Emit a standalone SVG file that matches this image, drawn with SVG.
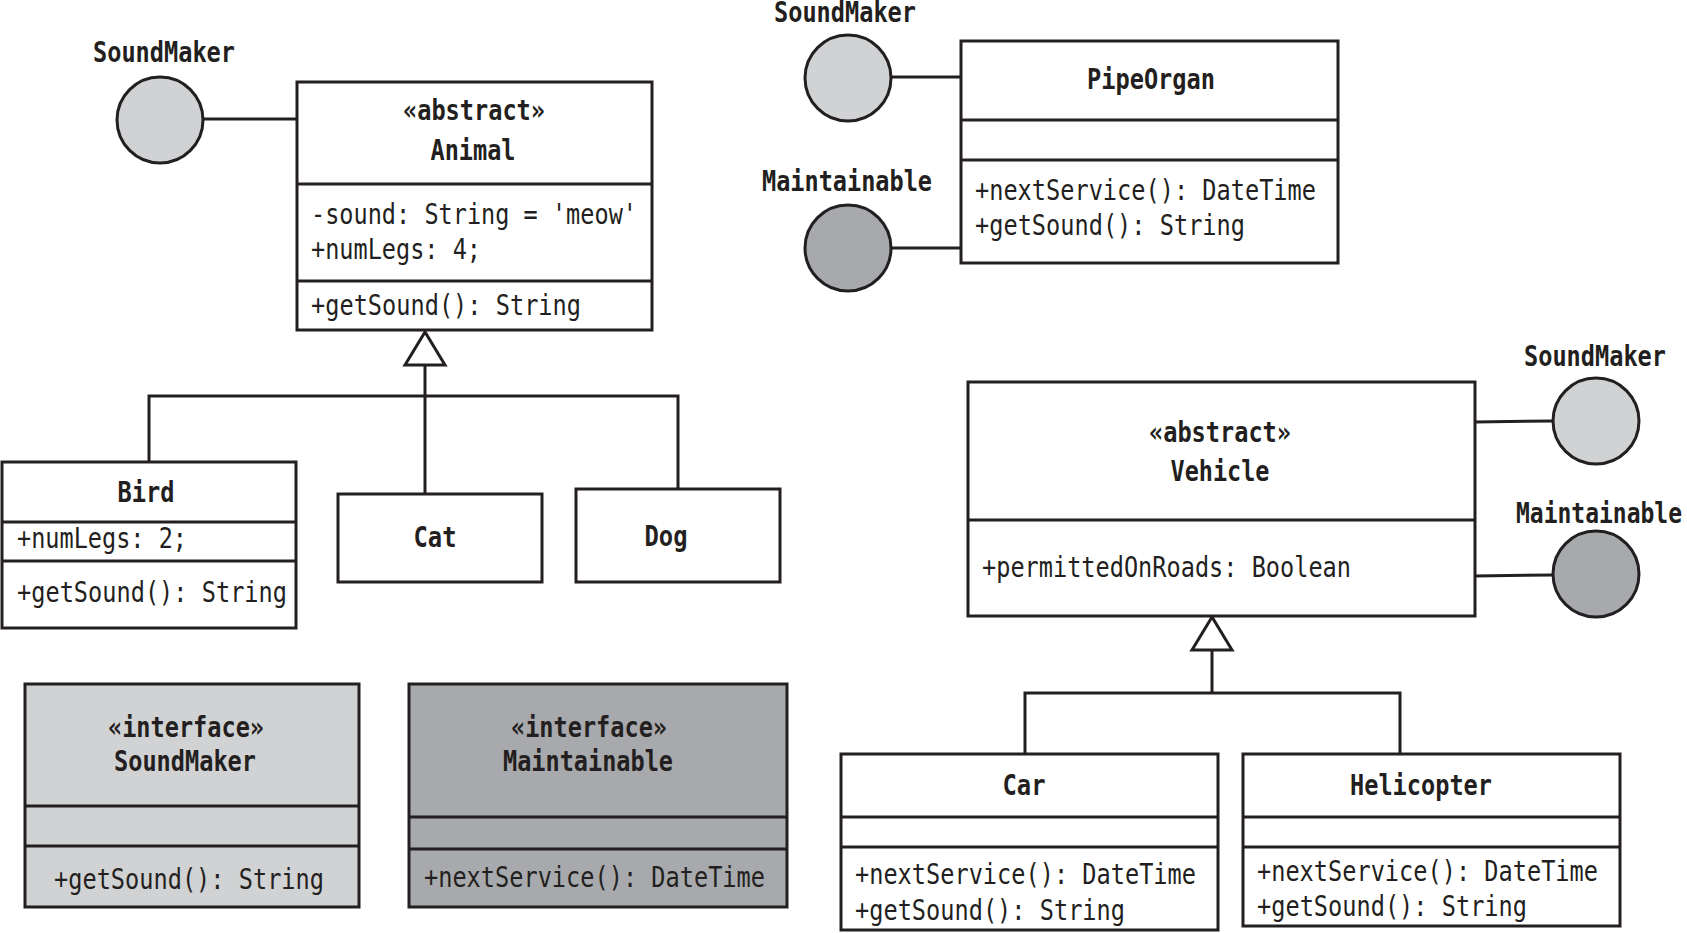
<svg xmlns="http://www.w3.org/2000/svg" width="1687" height="933" viewBox="0 0 1687 933">
<style>
.box{fill:#ffffff;stroke:#231f20;stroke-width:3}
.lg{fill:#d1d2d4}
.dg{fill:#a7a9ac}
.ln{stroke:#231f20;stroke-width:3;fill:none}
.ball{stroke:#231f20;stroke-width:3}
text{font-family:"DejaVu Sans Mono","Liberation Mono",monospace;font-size:29px;fill:#231f20}
.b{font-weight:bold;text-anchor:middle}
</style>
<rect width="1687" height="933" fill="#ffffff"/>
<g id="connectors">
  <line class="ln" x1="203" y1="119" x2="297" y2="119"/>
  <line class="ln" x1="891" y1="77" x2="961" y2="77"/>
  <line class="ln" x1="891" y1="248" x2="961" y2="248"/>
  <line class="ln" x1="1475" y1="422" x2="1553" y2="421"/>
  <line class="ln" x1="1475" y1="576" x2="1553" y2="575"/>
  <polyline class="ln" points="425,365 425,494"/>
  <polyline class="ln" points="149,462 149,396 678,396 678,489"/>
  <polygon class="ln" points="425,332 405,365 445,365" fill="#ffffff"/>
  <polyline class="ln" points="1212,650 1212,693"/>
  <polyline class="ln" points="1025,754 1025,693 1400,693 1400,754"/>
  <polygon class="ln" points="1212,617 1192,650 1232,650" fill="#ffffff"/>
</g>
<g id="soundmaker-ball-1">
  <circle class="ball lg" cx="160" cy="120" r="43"/>
  <text class="b" x="164" y="62" textLength="142" lengthAdjust="spacingAndGlyphs">SoundMaker</text>
</g>
<g id="soundmaker-ball-2">
  <circle class="ball lg" cx="848" cy="78" r="43"/>
  <text class="b" x="845" y="22" textLength="142" lengthAdjust="spacingAndGlyphs">SoundMaker</text>
</g>
<g id="maintainable-ball-1">
  <circle class="ball dg" cx="848" cy="248" r="43"/>
  <text class="b" x="847" y="191" textLength="170" lengthAdjust="spacingAndGlyphs">Maintainable</text>
</g>
<g id="soundmaker-ball-3">
  <circle class="ball lg" cx="1596" cy="421" r="43"/>
  <text class="b" x="1595" y="366" textLength="142" lengthAdjust="spacingAndGlyphs">SoundMaker</text>
</g>
<g id="maintainable-ball-2">
  <circle class="ball dg" cx="1596" cy="574" r="43"/>
  <text class="b" x="1599" y="523" textLength="166" lengthAdjust="spacingAndGlyphs">Maintainable</text>
</g>
<g id="animal">
  <rect class="box" x="297" y="82" width="355" height="248"/>
  <line class="ln" x1="297" y1="184" x2="652" y2="184"/>
  <line class="ln" x1="297" y1="281" x2="652" y2="281"/>
  <text class="b" x="474" y="120" textLength="142" lengthAdjust="spacingAndGlyphs">«abstract»</text>
  <text class="b" x="473" y="160" textLength="85" lengthAdjust="spacingAndGlyphs">Animal</text>
  <text x="311" y="224" textLength="326" lengthAdjust="spacingAndGlyphs">-sound: String = 'meow'</text>
  <text x="311" y="259" textLength="170" lengthAdjust="spacingAndGlyphs">+numLegs: 4;</text>
  <text x="311" y="315" textLength="270" lengthAdjust="spacingAndGlyphs">+getSound(): String</text>
</g>
<g id="pipeorgan">
  <rect class="box" x="961" y="41" width="377" height="222"/>
  <line class="ln" x1="961" y1="120" x2="1338" y2="120"/>
  <line class="ln" x1="961" y1="160" x2="1338" y2="160"/>
  <text class="b" x="1151" y="89" textLength="128" lengthAdjust="spacingAndGlyphs">PipeOrgan</text>
  <text x="975" y="200" textLength="341" lengthAdjust="spacingAndGlyphs">+nextService(): DateTime</text>
  <text x="975" y="235" textLength="270" lengthAdjust="spacingAndGlyphs">+getSound(): String</text>
</g>
<g id="vehicle">
  <rect class="box" x="968" y="382" width="507" height="234"/>
  <line class="ln" x1="968" y1="520" x2="1475" y2="520"/>
  <text class="b" x="1220" y="442" textLength="142" lengthAdjust="spacingAndGlyphs">«abstract»</text>
  <text class="b" x="1220" y="481" textLength="99" lengthAdjust="spacingAndGlyphs">Vehicle</text>
  <text x="982" y="577" textLength="369" lengthAdjust="spacingAndGlyphs">+permittedOnRoads: Boolean</text>
</g>
<g id="bird">
  <rect class="box" x="2" y="462" width="294" height="166"/>
  <line class="ln" x1="2" y1="522" x2="296" y2="522"/>
  <line class="ln" x1="2" y1="561" x2="296" y2="561"/>
  <text class="b" x="146" y="502" textLength="57" lengthAdjust="spacingAndGlyphs">Bird</text>
  <text x="17" y="548" textLength="170" lengthAdjust="spacingAndGlyphs">+numLegs: 2;</text>
  <text x="17" y="602" textLength="270" lengthAdjust="spacingAndGlyphs">+getSound(): String</text>
</g>
<g id="cat">
  <rect class="box" x="338" y="494" width="204" height="88"/>
  <text class="b" x="435" y="547" textLength="43" lengthAdjust="spacingAndGlyphs">Cat</text>
</g>
<g id="dog">
  <rect class="box" x="576" y="489" width="204" height="93"/>
  <text class="b" x="666" y="546" textLength="43" lengthAdjust="spacingAndGlyphs">Dog</text>
</g>
<g id="soundmaker-interface">
  <rect class="box lg" x="25" y="684" width="334" height="223"/>
  <line class="ln" x1="25" y1="806" x2="359" y2="806"/>
  <line class="ln" x1="25" y1="846" x2="359" y2="846"/>
  <text class="b" x="186" y="737" textLength="156" lengthAdjust="spacingAndGlyphs">«interface»</text>
  <text class="b" x="185" y="771" textLength="142" lengthAdjust="spacingAndGlyphs">SoundMaker</text>
  <text x="54" y="889" textLength="270" lengthAdjust="spacingAndGlyphs">+getSound(): String</text>
</g>
<g id="maintainable-interface">
  <rect class="box dg" x="409" y="684" width="378" height="223"/>
  <line class="ln" x1="409" y1="817" x2="787" y2="817"/>
  <line class="ln" x1="409" y1="849" x2="787" y2="849"/>
  <text class="b" x="589" y="737" textLength="156" lengthAdjust="spacingAndGlyphs">«interface»</text>
  <text class="b" x="588" y="771" textLength="170" lengthAdjust="spacingAndGlyphs">Maintainable</text>
  <text x="424" y="887" textLength="341" lengthAdjust="spacingAndGlyphs">+nextService(): DateTime</text>
</g>
<g id="car">
  <rect class="box" x="841" y="754" width="377" height="176"/>
  <line class="ln" x1="841" y1="817" x2="1218" y2="817"/>
  <line class="ln" x1="841" y1="847" x2="1218" y2="847"/>
  <text class="b" x="1024" y="795" textLength="43" lengthAdjust="spacingAndGlyphs">Car</text>
  <text x="855" y="884" textLength="341" lengthAdjust="spacingAndGlyphs">+nextService(): DateTime</text>
  <text x="855" y="920" textLength="270" lengthAdjust="spacingAndGlyphs">+getSound(): String</text>
</g>
<g id="helicopter">
  <rect class="box" x="1243" y="754" width="377" height="172"/>
  <line class="ln" x1="1243" y1="817" x2="1620" y2="817"/>
  <line class="ln" x1="1243" y1="847" x2="1620" y2="847"/>
  <text class="b" x="1421" y="795" textLength="142" lengthAdjust="spacingAndGlyphs">Helicopter</text>
  <text x="1257" y="881" textLength="341" lengthAdjust="spacingAndGlyphs">+nextService(): DateTime</text>
  <text x="1257" y="916" textLength="270" lengthAdjust="spacingAndGlyphs">+getSound(): String</text>
</g>
</svg>
